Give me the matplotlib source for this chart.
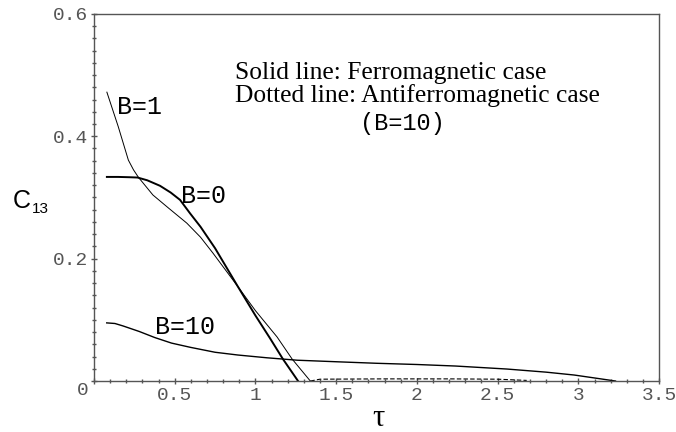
import numpy as np
import matplotlib.pyplot as plt
from matplotlib.ticker import MultipleLocator

# C13 vs tau
tau_b0 = [0.08, 0.15, 0.22, 0.27, 0.33, 0.409, 0.475, 0.533, 0.595, 0.66, 0.75, 0.892, 1.0, 1.09, 1.17, 1.264]
c13_b0 = [0.3335, 0.3335, 0.333, 0.3325, 0.328, 0.319, 0.308, 0.296, 0.274, 0.252, 0.217, 0.154, 0.107, 0.070, 0.036, 0.0]

tau_b1 = [0.08, 0.15, 0.213, 0.245, 0.275, 0.365, 0.46, 0.575, 0.66, 0.737, 0.892, 1.0, 1.134, 1.227, 1.34]
c13_b1 = [0.472, 0.416, 0.361, 0.345, 0.333, 0.304, 0.283, 0.258, 0.235, 0.209, 0.154, 0.115, 0.072, 0.036, 0.0]

tau_b10 = [0.079, 0.13, 0.18, 0.28, 0.377, 0.48, 0.598, 0.75, 0.891, 1.07, 1.259, 1.5, 1.749, 2.0, 2.239, 2.557, 2.8, 2.974, 3.1, 3.23]
c13_b10 = [0.095, 0.094, 0.090, 0.081, 0.071, 0.062, 0.055, 0.047, 0.0425, 0.038, 0.034, 0.0315, 0.029, 0.027, 0.0245, 0.0196, 0.0145, 0.0098, 0.005, 0.0]

tau_af = [1.34, 1.40, 1.8, 2.2, 2.5, 2.68]
c13_af = [0.0, 0.003, 0.0035, 0.0035, 0.003, 0.001]

xtick_vals = [0, 0.5, 1, 1.5, 2, 2.5, 3, 3.5]
xtick_labels = ["", "0.5", "1", "1.5", "2", "2.5", "3", "3.5"]
ytick_vals = [0, 0.2, 0.4, 0.6]
ytick_labels = ["", "0.2", "0.4", "0.6"]

mono = "Liberation Mono"
serif = "Liberation Serif"
grey = "#555555"

fig = plt.figure(figsize=(6.76, 4.32), dpi=100)
ax = fig.add_axes([0.139, 0.118, 0.836, 0.850])

ax.plot(tau_b1, c13_b1, color="black", lw=0.7)
ax.plot(tau_b0, c13_b0, color="black", lw=1.4)
ax.plot(tau_b10, c13_b10, color="black", lw=1.0)
ax.plot(tau_af, c13_af, color="black", lw=0.8, linestyle=(0, (4, 2)))

ax.set_xlim(0, 3.5)
ax.set_ylim(0, 0.6)

for s in ax.spines.values():
    s.set_color(grey)
    s.set_linewidth(1.0)

ax.set_xticks(xtick_vals)
ax.set_xticklabels(xtick_labels)
ax.set_yticks(ytick_vals)
ax.set_yticklabels(ytick_labels)
ax.xaxis.set_minor_locator(MultipleLocator(0.1))
ax.yaxis.set_minor_locator(MultipleLocator(0.02))
ax.tick_params(which="major", direction="inout", length=5, width=1.0, color=grey,
               labelsize=14, labelcolor=grey, pad=2)
ax.tick_params(which="minor", direction="inout", length=3.5, width=1.0, color=grey)
for lab in ax.get_xticklabels() + ax.get_yticklabels():
    lab.set_family(mono)

ax.text(-0.07, -0.015, "0", family=mono, fontsize=14, color=grey, ha="center", va="center")

ax.text(0.142, 0.447, "B=1", family=mono, fontsize=18, ha="left", va="center")
ax.text(0.537, 0.303, "B=0", family=mono, fontsize=18, ha="left", va="center")
ax.text(0.377, 0.089, "B=10", family=mono, fontsize=18, ha="left", va="center")

ax.text(0.874, 0.494, "Solid line: Ferromagnetic case", family=serif, fontsize=18.4, va="baseline")
ax.text(0.874, 0.456, "Dotted line: Antiferromagnetic case", family=serif, fontsize=18.4, va="baseline")
ax.text(1.91, 0.41, "(B=10)", family=mono, fontsize=17, ha="center", va="baseline")

fig.text(378 / 676, 1 - 419 / 432, "τ", family=serif, fontsize=22, ha="center", va="center")
fig.text(13 / 676, 1 - 208 / 432, "C", family="Liberation Sans", fontsize=18, va="baseline")
fig.text(32 / 676, 1 - 213 / 432, "13", family="Liberation Sans", fontsize=11, va="baseline")

plt.savefig("out.png", dpi=100)
